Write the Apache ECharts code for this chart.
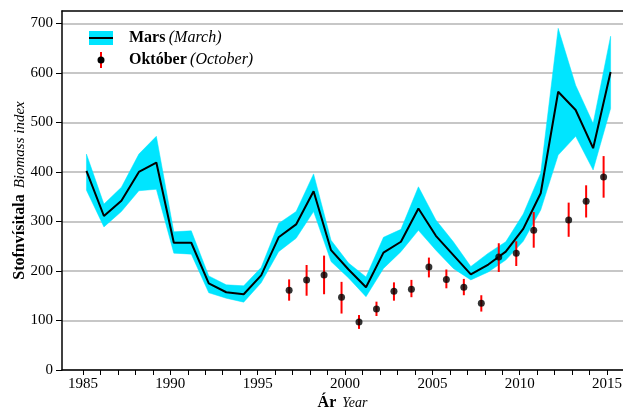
<!DOCTYPE html>
<html>
<head>
<meta charset="utf-8">
<script src="https://cdn.jsdelivr.net/npm/echarts@6/dist/echarts.min.js"></script>
<style>
html,body{margin:0;padding:0;background:#fff;}
#chart{width:623px;height:409px;}
</style>
</head>
<body>
<div id="chart"></div>
<script>
// ---- Data ----
const marchYears = [1985,1986,1987,1988,1989,1990,1991,1992,1993,1994,1995,1996,1997,1998,1999,2000,2001,2002,2003,2004,2005,2006,2007,2008,2009,2010,2011,2012,2013,2014,2015];
const marchIndex = [402,311,342,400,419,257,257,175,157,153,191,268,294,361,242,203,167,237,259,326,271,232,193,213,239,285,357,562,525,448,602];
const marchLower = [363,289,320,362,365,236,234,156,145,137,176,239,266,320,219,186,148,205,239,282,242,205,182,198,222,260,323,434,472,404,528];
const marchUpper = [436,335,369,436,472,279,281,190,172,170,207,296,320,396,262,216,188,268,284,370,303,259,209,236,259,315,398,690,575,498,674];

const octYears = [1996,1997,1998,1999,2000,2001,2002,2003,2004,2005,2006,2007,2008,2009,2010,2012,2013,2014];
const octIndex = [161,182,192,147,97,123,159,163,208,183,167,135,228,236,282,303,341,390];
const octLower = [140,150,153,114,83,109,140,147,187,165,151,118,198,210,247,269,308,348];
const octUpper = [183,212,231,178,111,138,177,182,227,203,184,151,256,260,319,338,373,432];

const marchOffset = 0.2;   // survey in March -> plotted at year + 0.2
const octOffset = 0.8;     // survey in October -> plotted at year + 0.8

const xLabelValues = [1985,1990,1995,2000,2005,2010,2015];
const xTickValues = [];
for (let y = 1985; y <= 2015; y++) xTickValues.push(y);
const yTickValues = [0,100,200,300,400,500,600,700];

// ---- Derived series data ----
const mx = marchYears.map(y => y + marchOffset);
const bandData = mx.map((x, i) => [x, marchLower[i], marchUpper[i]]);
const lineData = mx.map((x, i) => [x, marchIndex[i]]);
const ox = octYears.map(y => y + octOffset);
const octPts = ox.map((x, i) => [x, octIndex[i]]);
const octErr = ox.map((x, i) => [x, octLower[i], octUpper[i]]);

const FONT = 'Liberation Serif';
const CYAN = '#00e5ff';

const chart = echarts.init(document.getElementById('chart'), null, {renderer: 'canvas'});
chart.setOption({
  animation: false,
  backgroundColor: '#fff',
  textStyle: {fontFamily: FONT},
  grid: {left: 62, right: 0, top: 11, bottom: 39, show: false, containLabel: false, outerBoundsMode: 'none'},
  xAxis: [{
    type: 'value', min: 1983.8, max: 2015.91,
    axisLine: {show: true, onZero: false, lineStyle: {color: '#000', width: 1.5}},
    axisTick: {show: true, length: 5, lineStyle: {color: '#000', width: 1}, customValues: xTickValues},
    axisLabel: {color: '#000', fontFamily: FONT, fontSize: 15, margin: 7, customValues: xLabelValues,
                formatter: v => String(Math.round(v))},
    splitLine: {show: false},
    name: '{b|Ár}  {i|Year}', nameLocation: 'middle', nameGap: 25, nameMoveOverlap: false,
    nameTextStyle: {rich: {b: {fontFamily: FONT, fontWeight: 'bold', fontSize: 16, color: '#000'}, i: {fontFamily: FONT, fontStyle: 'italic', fontSize: 14, color: '#000'}}}
  }, {
    type: 'value', position: 'top', min: 1983.8, max: 2015.91,
    axisLine: {show: true, onZero: false, lineStyle: {color: '#000', width: 1.5}},
    axisTick: {show: false}, axisLabel: {show: false}, splitLine: {show: false}
  }],
  yAxis: {
    type: 'value', min: 0, max: 725, interval: 100,
    axisLine: {show: true, lineStyle: {color: '#000', width: 1.5}},
    axisTick: {show: true, length: 6, lineStyle: {color: '#000', width: 1}, customValues: yTickValues},
    axisLabel: {color: '#000', fontFamily: FONT, fontSize: 15, margin: 9, customValues: yTickValues},
    splitLine: {show: true, lineStyle: {color: '#b5b5b5', width: 1.5}},
    name: '{b|Stofnvísitala}  {i|Biomass index}', nameLocation: 'middle', nameGap: 34, nameRotate: 90, nameMoveOverlap: false,
    nameTextStyle: {rich: {b: {fontFamily: FONT, fontWeight: 'bold', fontSize: 16, color: '#000'}, i: {fontFamily: FONT, fontStyle: 'italic', fontSize: 15, color: '#000'}}}
  },
  series: [
    {type: 'custom', name: 'band', data: bandData, z: 2, silent: true,
     encode: {x: 0, y: [1, 2]},
     renderItem: function (params, api) {
       if (params.dataIndex !== 0) return null;
       const upper = [], lower = [];
       for (let i = 0; i < bandData.length; i++) {
         upper.push(api.coord([bandData[i][0], bandData[i][2]]));
         lower.push(api.coord([bandData[i][0], bandData[i][1]]));
       }
       const pts = upper.concat(lower.reverse());
       return {type: 'polygon', shape: {points: pts}, style: {fill: CYAN, stroke: CYAN, lineWidth: 0.5}};
     }},
    {type: 'line', name: 'Mars', data: lineData, symbol: 'none',
     lineStyle: {color: '#000', width: 2}, z: 3},
    {type: 'custom', name: 'err', data: octErr, z: 4,
     encode: {x: 0, y: [1, 2]},
     renderItem: function (params, api) {
       const p1 = api.coord([api.value(0), api.value(1)]);
       const p2 = api.coord([api.value(0), api.value(2)]);
       return {type: 'line', shape: {x1: p1[0], y1: p1[1], x2: p2[0], y2: p2[1]},
               style: {stroke: '#ff0000', lineWidth: 2}};
     }},
    {type: 'scatter', name: 'Október', data: octPts, symbol: 'circle', symbolSize: 7,
     itemStyle: {color: '#000'}, z: 5}
  ],
  graphic: [
    {type: 'rect', shape: {x: 89, y: 31, width: 24, height: 14}, style: {fill: CYAN}, z: 10},
    {type: 'line', shape: {x1: 89, y1: 38, x2: 113, y2: 38}, style: {stroke: '#000', lineWidth: 2}, z: 11},
    {type: 'text', x: 129, y: 38, z: 11, style: {text: '{b|Mars} {i|(March)}', verticalAlign: 'middle',
      rich: {b: {fontFamily: FONT, fontWeight: 'bold', fontSize: 16, fill: '#000'}, i: {fontFamily: FONT, fontStyle: 'italic', fontSize: 16, fill: '#000'}}}},
    {type: 'line', shape: {x1: 101, y1: 52, x2: 101, y2: 68}, style: {stroke: '#ff0000', lineWidth: 2}, z: 10},
    {type: 'circle', shape: {cx: 101, cy: 60, r: 3.5}, style: {fill: '#000'}, z: 11},
    {type: 'text', x: 129, y: 60, z: 11, style: {text: '{b|Október} {i|(October)}', verticalAlign: 'middle',
      rich: {b: {fontFamily: FONT, fontWeight: 'bold', fontSize: 16, fill: '#000'}, i: {fontFamily: FONT, fontStyle: 'italic', fontSize: 16, fill: '#000'}}}}
  ]
});
</script>
</body>
</html>
